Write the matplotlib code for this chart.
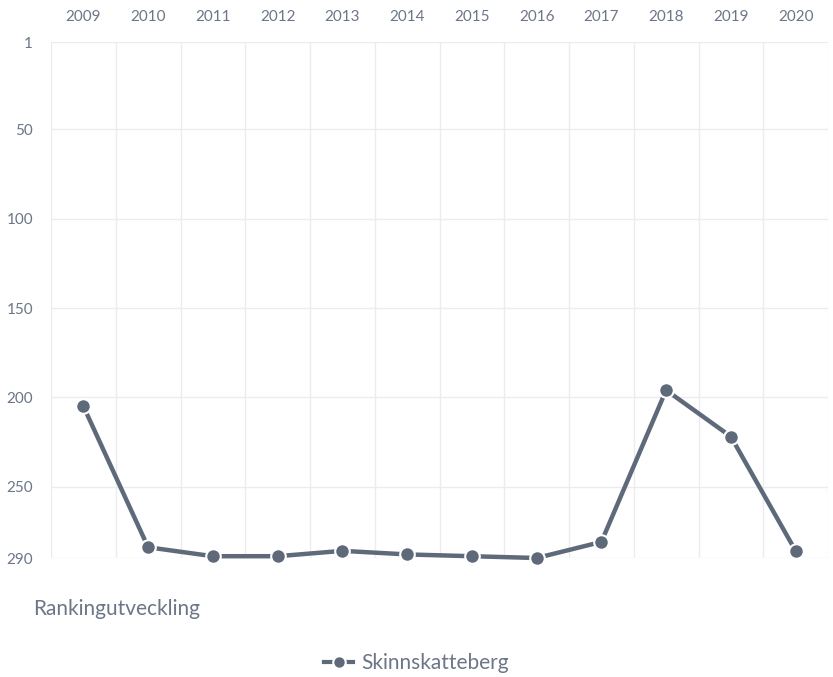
import matplotlib
matplotlib.use("Agg")
import matplotlib.pyplot as plt
from matplotlib.lines import Line2D

years = ["2009", "2010", "2011", "2012", "2013", "2014", "2015", "2016", "2017", "2018", "2019", "2020"]
ranks = [205, 284, 289, 289, 286, 288, 289, 290, 281, 196, 222, 286]
yticks = [1, 50, 100, 150, 200, 250, 290]
series_name = "Skinnskatteberg"
title = "Rankingutveckling"

plt.rcParams['font.family'] = ['Lato', 'DejaVu Sans']
W, H = 833, 677
fig = plt.figure(figsize=(W / 100, H / 100), dpi=100)
left, right, top, bottom = 51, 828, 42, 558
ax = fig.add_axes([left / W, 1 - bottom / H, (right - left) / W, (bottom - top) / H])

line_c = '#5e6a7a'
text_c = '#6b7686'
grid_c = '#ececf0'

x = list(range(len(years)))
ax.plot(x, ranks, color=line_c, lw=3.2, marker='o', ms=10.5,
        markerfacecolor=line_c, markeredgecolor='white', markeredgewidth=1.5,
        clip_on=False, zorder=3)

ax.set_xlim(-0.5, len(years) - 0.5)
ax.set_ylim(290, 1)
ax.set_yticks(yticks)
ax.set_yticklabels([str(v) for v in yticks])
ax.set_xticks(x)
ax.set_xticklabels(years)
ax.xaxis.tick_top()
ax.tick_params(axis='both', which='both', length=0, colors=text_c, labelsize=11)
ax.tick_params(axis='x', which='major', pad=13)
ax.tick_params(axis='y', pad=13)
ax.grid(False)
for v in yticks:
    ax.axhline(v, color=grid_c, lw=1, zorder=0)
for i in range(-1, len(years)):
    ax.axvline(i + 0.5, color=grid_c, lw=1, zorder=0)
for s in ax.spines.values():
    s.set_visible(False)

fig.text(33 / W, 1 - 609 / H, title, fontsize=15, color=text_c, va='center', ha='left')

handle = Line2D([0], [0], color=line_c, lw=3, marker='o', ms=9,
                markerfacecolor=line_c, markeredgecolor='white', markeredgewidth=1.5)
fig.legend([handle], [series_name], loc='center', bbox_to_anchor=(0.5, 1 - 663 / H),
           frameon=False, fontsize=15, labelcolor=text_c, handlelength=1.4, handletextpad=0.4)

fig.savefig('out.png', dpi=100)
